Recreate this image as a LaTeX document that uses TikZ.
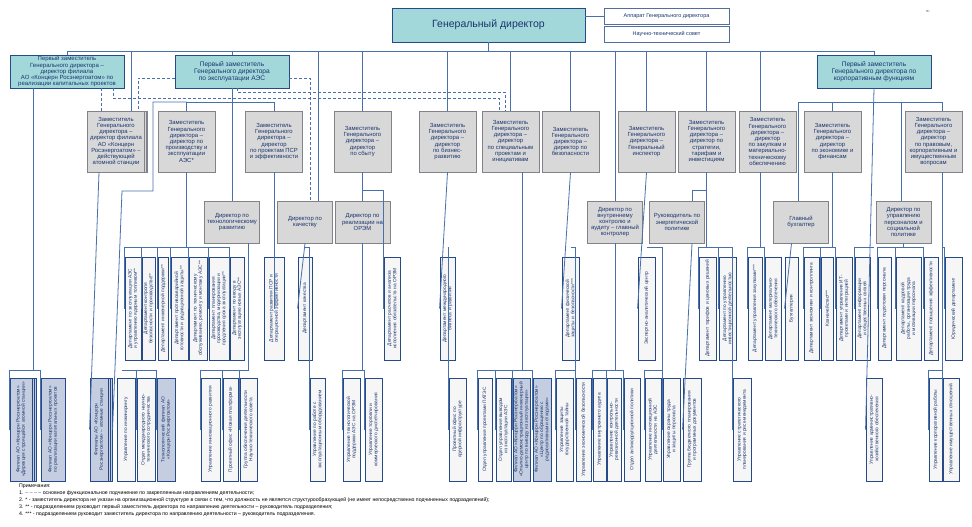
\documentclass[tikz,border=0pt]{standalone}
\usepackage{fontspec}
\setmainfont{Liberation Sans}
\usetikzlibrary{shadows}
\definecolor{tealc}{RGB}{163,216,219}
\definecolor{edgec}{RGB}{38,74,135}
\definecolor{grayc}{RGB}{216,216,216}
\definecolor{grayedge}{RGB}{130,130,136}
\definecolor{linec}{RGB}{72,112,170}
\definecolor{txtc}{RGB}{26,52,110}
\definecolor{deptc}{RGB}{246,246,246}
\definecolor{filc}{RGB}{196,206,224}

\begin{document}
\begin{tikzpicture}[x=1pt, y=-1pt,
  conn/.style={draw=linec, line width=0.8pt},
  dashln/.style={draw=linec, line width=0.8pt, dash pattern=on 3pt off 2pt},
  topbox/.style={draw=edgec, fill=tealc, line width=0.9pt, text=txtc, align=center, inner sep=0.5pt, minimum width=114, minimum height=33},
  smallbox/.style={draw=edgec!80, fill=white, line width=0.7pt, text=txtc, minimum width=125, minimum height=16, font=\fontsize{5.5}{6}\selectfont, inner sep=0pt},
  zambox/.style={draw=grayedge, fill=grayc, line width=0.8pt, text=txtc, align=center, minimum width=57, minimum height=61, inner sep=0.5pt, font=\fontsize{5.9}{6.2}\selectfont},
  dirbox/.style={zambox, minimum width=55, minimum height=42},
  dept/.style={draw=edgec, fill=deptc, line width=0.9pt, text=txtc, rotate=90, minimum width=103, text width=97, align=center, inner sep=0.6pt, font=\fontsize{4.8}{5.3}\selectfont},
  filbox/.style={dept, fill=filc},
  stacked/.style={double copy shadow={shadow xshift=#1, shadow yshift=0pt}},
]
\fill[white] (0,0) rectangle (972,527);
\useasboundingbox (0,0) rectangle (972,527);

% ─── Top level ───
\node[topbox, minimum width=193, minimum height=34, font=\fontsize{10.5}{12}\selectfont] (GD) at (488.5,25) {Генеральный директор};
\node[smallbox] (APP) at (666.5,16.5) {Аппарат Генерального директора};
\node[smallbox] (NTS) at (666.5,34.5) {Научно-технический совет};
\node[font=\fontsize{4}{4}\selectfont, text=black!60] (mark) at (928,11) {ж:};

% First deputies
\node[topbox, font=\fontsize{6}{6.1}\selectfont] (PZ1) at (67,71.5) {Первый заместитель\\Генерального директора –\\директор филиала\\АО «Концерн Росэнергоатом» по\\реализации капитальных проектов};
\node[topbox, font=\fontsize{6.6}{7}\selectfont] (PZ2) at (232,71.5) {Первый заместитель\\Генерального директора\\по эксплуатации АЭС};
\node[topbox, font=\fontsize{6.6}{7}\selectfont] (PZ3) at (874,71.5) {Первый заместитель\\Генерального директора по\\корпоративным функциям};

% ─── Deputies ───
\node[zambox, stacked=1.5pt] (A) at (116,141.5) {Заместитель\\Генерального\\директора –\\директор филиала\\АО «Концерн\\Росэнергоатом» –\\действующей\\атомной станции};
\foreach \nm/\cx/\t in {
  B/186.5/{Заместитель\\Генерального\\директора –\\директор по\\производству и\\эксплуатации\\АЭС*},
  C/274/{Заместитель\\Генерального\\директора –\\директор\\по проектам ПСР\\и эффективности},
  D/362.5/{Заместитель\\Генерального\\директора –\\директор\\по сбыту},
  E/447.5/{Заместитель\\Генерального\\директора –\\директор\\по бизнес-\\развитию},
  F/510.5/{Заместитель\\Генерального\\директора –\\директор\\по специальным\\проектам и\\инициативам},
  G/570.5/{Заместитель\\Генерального\\директора –\\директор по\\безопасности},
  H/646.5/{Заместитель\\Генерального\\директора –\\Генеральный\\инспектор},
  I/706.5/{Заместитель\\Генерального\\директора –\\директор по\\стратегии,\\тарифам и\\инвестициям},
  J/767.5/{Заместитель\\Генерального\\директора –\\директор\\по закупкам и\\материально-\\техническому\\обеспечению},
  K/832.5/{Заместитель\\Генерального\\директора –\\директор\\по экономике и\\финансам},
  L/933.5/{Заместитель\\Генерального\\директора –\\директор\\по правовым,\\корпоративным и\\имущественным\\вопросам}}
  \node[zambox] (\nm) at (\cx,141.5) {\t};

% Directors
\foreach \nm/\cx/\t in {
  DTR/232/{Директор по\\технологическому\\развитию},
  DQ/305/{Директор по\\качеству},
  DOREM/362.5/{Директор по\\реализации на\\ОРЭМ},
  DIC/615/{Директор по\\внутреннему\\контролю и\\аудиту – главный\\контролер},
  DEP/677/{Руководитель по\\энергетической\\политике},
  GB/801/{Главный\\бухгалтер},
  DP/903.5/{Директор по\\управлению\\персоналом и\\социальной\\политике}}
  \node[dirbox] (\nm) at (\cx,222) {\t};

% ─── Departments ───
\foreach \nm/\xl/\xr/\t in {
  a1/125/141/{Департамент по эксплуатации АЭС и управлению ядерным топливом**},
  a2/142/155/{Департамент контроля безопасности и производства**},
  a3/158/168/{Департамент инженерной поддержки**},
  a4/171/188/{Департамент противоаварийной готовности и радиационной защиты**},
  a5/189/207/{Департамент по техническому обслуживанию, ремонту и монтажу АЭС**},
  a6/209/229/{Департамент планирования производства, модернизации и продления срока эксплуатации**},
  a7/230/244/{Департамент по вводу в эксплуатацию новых АЭС**},
  b1/264/284/{Департамент развития ПСР и операционной эффективности},
  b2/298/312/{Департамент качества},
  b3/384/400/{Департамент расчетов и анализа исполнения обязательств на ОРЭМ},
  b4/440/455/{Департамент международного бизнеса и развития},
  c1/562/579/{Департамент физической защиты и безопасности***},
  c2/638/655/{Экспертно-аналитический центр},
  c3/699/716/{Департамент тарифов и ценовых решений},
  c4/719/736/{Департамент по управлению инвестиционной деятельностью},
  c5/748/762/{Департамент управления закупками***},
  c6/765/781/{Департамент материально-технического обеспечения},
  c7/785/798/{Бухгалтерия},
  c8/804/819/{Департамент экономики и контроллинга},
  c9/821/833/{Казначейство***},
  c10/836/852/{Департамент управления ИТ-проектами и интеграцией},
  c11/855/870/{Департамент информации и общественных связей},
  c12/878/891/{Департамент подготовки персонала},
  c13/896/921/{Департамент кадровой работы, организации труда и мотивации персонала},
  c14/924/938/{Департамент повышения эффективности},
  c15/945/962/{Юридический департамент}}
  \node[dept, minimum height=\xr-\xl] (\nm) at ({(\xl+\xr)/2},308.5) {\t};

% ─── Units ───
\node[filbox, minimum height=22, stacked=2.3pt] (f1) at (21,429.5) {Филиал АО «Концерн Росэнергоатом» «Дирекция строящейся атомной станции»};
\node[filbox, minimum height=24] (f2) at (53,429.5) {Филиал АО «Концерн Росэнергоатом» по реализации капитальных проектов};
\node[filbox, minimum height=18, stacked=2pt] (f3) at (99,429.5) {Филиалы АО «Концерн Росэнергоатом» – атомные станции};
\node[filbox, minimum height=18] (u3) at (166,429.5) {Технологический филиал АО «Концерн Росэнергоатом»};
\node[filbox, minimum height=17] (u13) at (521.5,429.5) {Филиал АО «Концерн Росэнергоатом» «Опытно-демонстрационный инженерный центр по выводу из эксплуатации»};
\node[filbox, minimum height=18] (u14) at (542,429.5) {Филиал АО «Концерн Росэнергоатом» «Центр по обращению с радиоактивными отходами»};
\foreach \nm/\xl/\xr/\t in {
  u1/117/135/{Управление по инжинирингу},
  u2/137/155/{Отдел международного научно-технического сотрудничества},
  u4/201/220/{Управление инновационного развития},
  u5/223/238/{Проектный офис «Новая платформа»},
  u6/240/257/{Группа обеспечения деятельности Научно-технического совета},
  u7/310/325/{Управление по работе с эксплуатационным оборудованием},
  u8/343/360/{Управление технологической поддержки АЭС на ОРЭМ},
  u9/365/382/{Управление торговли и коммерческого диспетчирования},
  u10/449/466/{Проектный офис по ядерной инфраструктуре},
  u11/478/492/{Отдел управления проектами ПАТЭС},
  u12/496/511/{Отдел управления выводом из эксплуатации АЭС},
  u15/556/573/{Управление защиты государственной тайны},
  u16/576/591/{Управление экономической безопасности},
  u17/593/606/{Управление внутреннего аудита},
  u18/607/621/{Управление контрольно-ревизионной деятельности},
  u19/624/640/{Отдел антикоррупционной политики},
  u20/645/661/{Управление инспекционной деятельности на АЭС},
  u21/663/680/{Управление охраны труда и защиты персонала},
  u22/683/701/{Группа бюджетного планирования и программных документов},
  u23/733/751/{Управление стратегического планирования и риск-менеджмента},
  u24/866/882/{Управление административно-хозяйственного обеспечения},
  u25/929/942/{Управление корпоративной работы},
  u26/943/959/{Управление имущественных отношений}}
  \node[dept, minimum height=\xr-\xl] (\nm) at ({(\xl+\xr)/2},429.5) {\t};

% ─── Connectors ───
\coordinate (bus) at (0,51);
\coordinate (b102) at (0,102);
\coordinate (b190) at (0,190);
\coordinate (b247) at (0,247);
\coordinate (b370) at (0,370);

\draw[conn] (GD.south) -- (GD.south |- bus);
\draw[conn] (PZ1.north |- bus) -- (PZ3.north |- bus);
\draw[conn] (GD.east |- APP.west) -- (APP.west);
\foreach \t in {PZ1,PZ2,PZ3,D,E,F,G,H,I,DIC}
  \draw[conn] (\t.north |- bus) -- (\t.north);
\draw[conn] ([xshift=15pt]A.north) -- ++(0,-60);
\draw[conn] ([xshift=13pt]DQ.north) -- ++(0,-150);
\draw[conn] ([xshift=-7.5pt]J.north) -- ++(0,-60);

% operation
\draw[conn] (PZ2.south) -- (DTR.north);
\draw[conn] (C.north) |- (B.north |- b102) -- (B.north);
\coordinate (k1) at (122,370);
\draw[conn] (B.north |- b102) -- (153,102) -- (153,191) -- (122,191) -- ([xshift=-4pt]u1.north);
\foreach \c in {u2,u3} \draw[conn] (k1) -| (\c.north);
\foreach \c in {a1,a2,a3,a4,a5,a6,a7} \draw[conn] (B.south) -- (B.south |- b247) -| (\c.north);
\coordinate (t1) at ([xshift=16pt]DTR.south);
\foreach \c in {u4,u5,u6} \draw[conn] (t1) -- (t1 |- b370) -| (\c.north);
\draw[conn] (C.south) -- (C.south |- b1.north);
\draw[conn] (DQ.south) -- (b2.north);
\draw[conn] (DQ.south |- b247) -| (u7.north);

% functional lines
\draw[dashln] ([xshift=-15pt]A.north) -- ++(0,-23);
\draw[dashln] ([yshift=-6.5pt]PZ2.west) -| ([xshift=22pt]A.north);
\draw[dashln] ([yshift=-6.5pt]PZ2.east) -| ([xshift=5pt]DQ.north);
\draw[dashln] ([xshift=46pt]PZ1.south) -- ++(0,10) -| ([xshift=-11.5pt]F.north);
\draw[dashln] ([xshift=5pt]PZ2.south) -- ++(0,4) -| ([xshift=-5.5pt]F.north);

% sales, business, special
\draw[conn] (D.south) -- (DOREM.north);
\draw[conn] (D.south |- b190) -| (b3.north);
\foreach \c in {u8,u9} \draw[conn] (DOREM.south) -- (DOREM.south |- b370) -| (\c.north);
\draw[conn] (E.south) -- (b4.north);
\draw[conn] (E.south |- b247) -| (u10.north);
\coordinate (t2) at ([xshift=11.5pt]F.south);
\foreach \c in {u11,u12,u13,u14} \draw[conn] (t2) -- (t2 |- b370) -| (\c.north);

% security, control, inspector
\draw[conn] (G.south) -- (c1.north);
\draw[conn] (G.south |- b247) -| (u16.north);
\draw[conn] (u16.north |- b370) -| (u15.north);
\foreach \c in {u17,u18,u19} \draw[conn] (DIC.south) -- (DIC.south |- b370) -| (\c.north);
\draw[conn] (H.south) -- (c2.north);
\coordinate (h1) at (662,247);
\coordinate (h2) at (662,370);
\draw[conn] (H.south |- b247) -- (h1) -- (h2);
\foreach \c in {u20,u21} \draw[conn] (h2) -| (\c.north);

% strategy, procurement
\draw[conn] (I.south) -- ++(0,18) -| ([xshift=15pt]DEP.north);
\foreach \c in {c3,c4,u23} \draw[conn] (I.south) -- (I.south |- b247) -| (\c.north);
\draw[conn] ([xshift=15pt]DEP.south) -- (u22.north);
\coordinate (j1) at ([xshift=-7.5pt]J.south);
\foreach \c in {c5,c6} \draw[conn] (j1) -- (j1 |- b247) -| (\c.north);

% corporate functions
\draw[conn] (PZ3.south) -- (u24.north);
\draw[conn] (PZ3.south |- b247) -| (c11.north);
\draw[conn] ([xshift=-3pt]GB.north) |- (PZ3.south |- b102);
\draw[conn] (K.north) |- (PZ3.south |- b102);
\draw[conn] ([xshift=-2.5pt]DP.north) |- (PZ3.south |- b102);
\draw[conn] ([xshift=8.5pt]L.north) |- (PZ3.south |- b102);
\draw[conn] ([xshift=-9.5pt]GB.south) -- (c7.north);
\foreach \c in {c8,c9,c10} \draw[conn] (K.south) -- (K.south |- b247) -| (\c.north);
\foreach \c in {c12,c13,c14} \draw[conn] (DP.south) -- (DP.south |- b247) -| (\c.north);
\coordinate (l1) at ([xshift=8.5pt]L.south);
\draw[conn] (l1) -- (l1 |- b247) -| (c15.north);
\foreach \c in {u25,u26} \draw[conn] (l1) -- (l1 |- b370) -| (\c.north);

% capital projects, stations
\coordinate (q1) at ([xshift=-34pt]PZ1.south);
\foreach \c in {f1,f2} \draw[conn] (q1) -- (q1 |- b370) -| (\c.north);
\draw[conn] ([xshift=-17pt]A.south) -- (f3.north);

% Notes
\node[anchor=north west, align=left, inner sep=0pt, font=\fontsize{5.2}{6.9}\selectfont] (notes) at (19,484) {Примечания:\\
1. {\color{edgec}– – – –} основное функциональное подчинение по закрепленным направлениям деятельности;\\
2. * - заместитель директора не указан на организационной структуре в связи с тем, что должность не является структурообразующей (не имеет непосредственно подчиненных подразделений);\\
3. ** - подразделением руководит первый заместитель директора по направлению деятельности – руководитель подразделения;\\
4. *** - подразделением руководит заместитель директора по направлению деятельности – руководитель подразделения.};
\end{tikzpicture}
\end{document}
